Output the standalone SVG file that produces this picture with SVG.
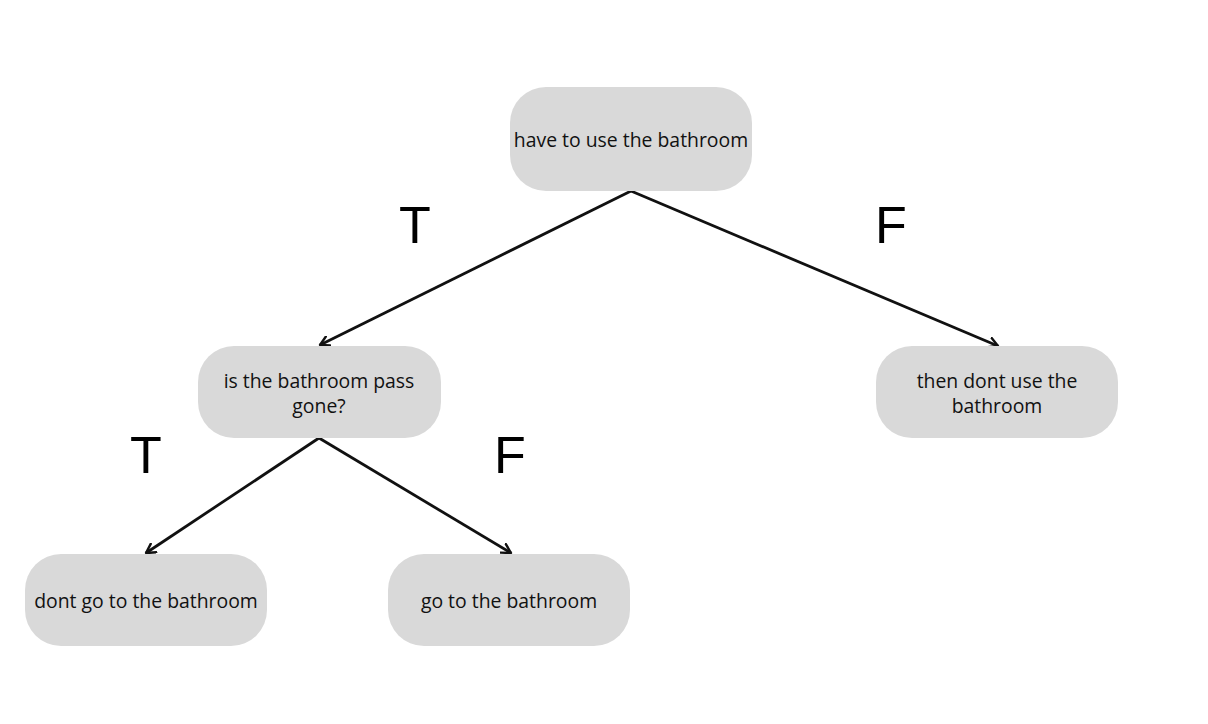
<svg xmlns="http://www.w3.org/2000/svg" width="1208" height="724" viewBox="0 0 1208 724">
<defs>
<style>
.node rect{fill:#d9d9d9;}
.node text{font-family:"Open Sans","Liberation Sans",sans-serif;font-size:19.4px;fill:#111;text-anchor:middle;}
.edge{stroke:#111;stroke-width:2.8;fill:none;marker-end:url(#arr);}
.lbl{font-family:"Liberation Sans",Arial,sans-serif;font-size:52px;fill:#000;text-anchor:middle;}
</style>
<marker id="arr" viewBox="0 0 12 12" refX="10" refY="6" markerWidth="12" markerHeight="12" markerUnits="userSpaceOnUse" orient="auto">
<path d="M1,1 L10,6 L1,11" fill="none" stroke="#111" stroke-width="2.4" stroke-linecap="round" stroke-linejoin="round"/>
</marker>
</defs>
<rect width="1208" height="724" fill="#fff"/>
<g id="connectors">
<line class="edge" x1="631" y1="191" x2="320" y2="345"/>
<line class="edge" x1="631" y1="191" x2="998" y2="346"/>
<line class="edge" x1="319" y1="438" x2="146" y2="553"/>
<line class="edge" x1="319" y1="438" x2="511" y2="553"/>
</g>
<g id="labels">
<text class="lbl" x="415" y="243">T</text>
<text class="lbl" x="891" y="243">F</text>
<text class="lbl" x="146" y="473">T</text>
<text class="lbl" x="510" y="473">F</text>
</g>
<g id="n1" class="node"><rect x="510" y="87" width="242" height="104" rx="36"/><text x="631" y="147">have to use the bathroom</text></g>
<g id="n2" class="node"><rect x="198" y="346" width="243" height="92" rx="36"/><text x="319" y="388">is the bathroom pass</text><text x="319" y="413">gone?</text></g>
<g id="n3" class="node"><rect x="876" y="346" width="242" height="92" rx="36"/><text x="997" y="388">then dont use the</text><text x="997" y="413">bathroom</text></g>
<g id="n4" class="node"><rect x="25" y="554" width="242" height="92" rx="36"/><text x="146" y="608">dont go to the bathroom</text></g>
<g id="n5" class="node"><rect x="388" y="554" width="242" height="92" rx="36"/><text x="509" y="608">go to the bathroom</text></g>
</svg>
